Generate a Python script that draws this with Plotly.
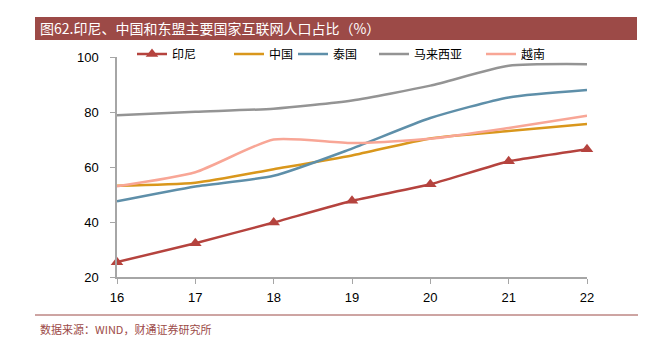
import plotly.graph_objects as go

years = [16, 17, 18, 19, 20, 21, 22]
indonesia = [25.4, 32.3, 39.8, 47.7, 53.7, 62.1, 66.5]
china = [53.2, 54.3, 59.2, 64.2, 70.4, 73.1, 75.6]
thailand = [47.5, 52.9, 56.8, 66.7, 77.8, 85.3, 88.0]
malaysia = [78.8, 80.1, 81.2, 84.2, 89.6, 96.8, 97.4]
vietnam = [53.0, 58.1, 70.0, 68.7, 70.3, 74.2, 78.6]
names = ["印尼", "中国", "泰国", "马来西亚", "越南"]
colors = ["#B5433E", "#D9971C", "#5E8FA9", "#949494", "#F8A696"]
series = [indonesia, china, thailand, malaysia, vietnam]

# paper coordinate helpers (plot area: x 117..587 px, y 57..277 px)
def px_x(p):
    return (p - 117) / 470.0

def px_y(p):
    return (277 - p) / 220.0

legend_ids = ["legend", "legend2", "legend3", "legend4", "legend5"]
legend_px = [132, 229, 293, 374, 481]

fig = go.Figure()
for i, (n, s, c) in enumerate(zip(names, series, colors)):
    fig.add_trace(go.Scatter(
        x=years, y=s, name=n, mode="lines+markers" if i == 0 else "lines",
        line=dict(color=c, width=2.5, shape="spline", smoothing=0.6 if i else 0.3),
        marker=dict(symbol="triangle-up", size=11, color=c) if i == 0 else None,
        cliponaxis=False, legend=legend_ids[i],
    ))

brown = "#9C4A47"
legend_common = dict(orientation="h", xanchor="left", yanchor="middle",
                     font=dict(family="Noto Sans CJK SC", size=12, color="#000"),
                     bgcolor="rgba(0,0,0,0)", itemwidth=30)
layout_legends = {}
for lid, lx in zip(legend_ids, legend_px):
    layout_legends[lid] = dict(legend_common, x=px_x(lx), y=px_y(54))

fig.update_layout(
    width=654, height=343,
    margin=dict(l=117, r=67, t=57, b=66),
    paper_bgcolor="white", plot_bgcolor="white",
    font=dict(family="Liberation Sans, Arial", size=13, color="#000000"),
    showlegend=True,
    xaxis=dict(range=[16, 22], tickvals=years, ticktext=[str(y) for y in years],
               showgrid=False, zeroline=False, showline=True, linecolor="#A6A6A6", linewidth=1.5,
               ticks="outside", ticklen=5, tickcolor="#A6A6A6", tickfont=dict(size=13),
               ticklabelstandoff=3),
    yaxis=dict(range=[20, 100], tickvals=[20, 40, 60, 80, 100],
               showgrid=False, zeroline=False, showline=True, linecolor="#A6A6A6", linewidth=1.5,
               ticks="outside", ticklen=5, tickcolor="#A6A6A6", tickfont=dict(size=13),
               ticklabelstandoff=9),
    shapes=[
        dict(type="rect", xref="paper", yref="paper", x0=px_x(35), x1=px_x(637),
             y0=px_y(40), y1=px_y(17), fillcolor=brown, line=dict(width=0), layer="below"),
        dict(type="line", xref="paper", yref="paper", x0=px_x(35), x1=px_x(638),
             y0=px_y(315), y1=px_y(315), line=dict(color=brown, width=1)),
    ],
    annotations=[
        dict(text="图62.印尼、中国和东盟主要国家互联网人口占比（%）", xref="paper", yref="paper",
             x=px_x(38), y=px_y(28.5), xanchor="left", yanchor="middle", showarrow=False,
             font=dict(family="Noto Sans CJK SC", size=14, color="white")),
        dict(text="数据来源：WIND，财通证券研究所", xref="paper", yref="paper",
             x=px_x(38), y=px_y(329), xanchor="left", yanchor="middle", showarrow=False,
             font=dict(family="Noto Sans CJK SC", size=11, color=brown)),
    ],
    **layout_legends,
)

fig.write_html("out.html")
